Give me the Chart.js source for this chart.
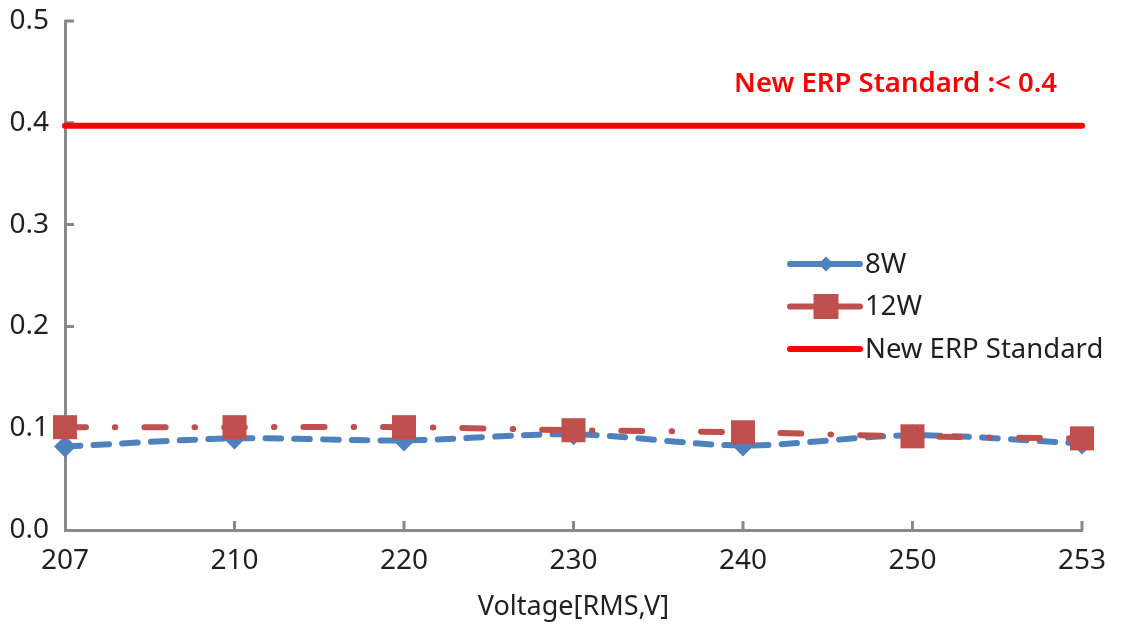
<!DOCTYPE html>
<html>
<head>
<meta charset="utf-8">
<script src="https://cdn.jsdelivr.net/npm/chart.js@4"></script>
<style>
  html, body { margin: 0; padding: 0; background: #fff; }
</style>
</head>
<body>
<canvas id="erp_chart" width="1137" height="628"></canvas>
<script>
// values
const voltages = ['207', '210', '220', '230', '240', '250', '253'];
const pf8w = [0.082, 0.090, 0.088, 0.094, 0.083, 0.093, 0.085];
const pf12w = [0.101, 0.101, 0.101, 0.098, 0.096, 0.092, 0.090];
const erpLimit = [0.397, 0.397, 0.397, 0.397, 0.397, 0.397, 0.397];
const yTicks = [0.0, 0.1, 0.2, 0.3, 0.4, 0.5];
const seriesNames = ['8W', '12W', 'New ERP Standard'];
const noteText = 'New ERP Standard :< 0.4';

const FONT = '"Noto Sans", "Open Sans", sans-serif';
const TEXT = '#231F20';
const AXIS = '#898989';
const BLUE = '#4F81BD';
const RED = '#C0504D';
const ERP = '#FF0000';

// small tick marks pointing into the plot, like the original
const insideTicks = {
    id: 'insideTicks',
    beforeDatasetsDraw(chart) {
        const {ctx, chartArea, scales} = chart;
        ctx.save();
        ctx.strokeStyle = AXIS;
        ctx.lineWidth = 3;
        ctx.beginPath();
        yTicks.forEach(v => {
            if (v === 0) return;
            const py = scales.y.getPixelForValue(v);
            ctx.moveTo(chartArea.left, py);
            ctx.lineTo(chartArea.left + 9, py);
        });
        voltages.forEach((v, i) => {
            if (i === 0) return;
            const px = scales.x.getPixelForValue(i);
            ctx.moveTo(px, chartArea.bottom);
            ctx.lineTo(px, chartArea.bottom - 9);
        });
        ctx.stroke();
        ctx.restore();
    }
};

// red note above the limit line
const erpNote = {
    id: 'erpNote',
    afterDraw(chart) {
        const {ctx, chartArea, scales} = chart;
        ctx.save();
        ctx.font = '600 27.5px ' + FONT;
        ctx.fillStyle = ERP;
        ctx.textAlign = 'right';
        ctx.textBaseline = 'middle';
        ctx.fillText(noteText, chartArea.right - 25, scales.y.getPixelForValue(erpLimit[0]) - 42);
        ctx.restore();
    }
};

function drawMarker(ctx, style, x, y, r, color) {
    ctx.fillStyle = color;
    ctx.beginPath();
    if (style === 'rectRot') {
        ctx.moveTo(x, y - r);
        ctx.lineTo(x + r, y);
        ctx.lineTo(x, y + r);
        ctx.lineTo(x - r, y);
        ctx.closePath();
    } else if (style === 'rect') {
        ctx.rect(x - r, y - r, 2 * r, 2 * r);
    }
    ctx.fill();
}

// legend sitting inside the plot on the right
const sideLegend = {
    id: 'sideLegend',
    afterDraw(chart) {
        const {ctx, chartArea} = chart;
        const x0 = chartArea.right - 292;
        const y0 = chartArea.top + 243;
        const markers = [['rectRot', 7.5], ['rect', 12.5], [null, 0]];
        ctx.save();
        chart.data.datasets.forEach((ds, i) => {
            const y = y0 + i * 42.5;
            ctx.strokeStyle = ds.borderColor;
            ctx.lineWidth = 6;
            ctx.lineCap = 'round';
            ctx.beginPath();
            ctx.moveTo(x0, y);
            ctx.lineTo(x0 + 70, y);
            ctx.stroke();
            if (markers[i][0]) drawMarker(ctx, markers[i][0], x0 + 36, y, markers[i][1], ds.pointBackgroundColor);
            ctx.fillStyle = TEXT;
            ctx.font = '27.5px ' + FONT;
            ctx.textAlign = 'left';
            ctx.textBaseline = 'middle';
            ctx.fillText(ds.label, x0 + 75, y + 1);
        });
        ctx.restore();
    }
};

const chart_data = {
    labels: voltages,
    datasets: [{
        label: seriesNames[0],
        data: pf8w,
        borderColor: BLUE,
        borderWidth: 6,
        borderDash: [15.5, 13.2],
        borderCapStyle: 'round',
        tension: 0.3,
        pointStyle: 'rectRot',
        pointRadius: 11,
        pointBackgroundColor: BLUE,
        pointBorderColor: BLUE,
        pointBorderWidth: 0,
        clip: false,
        order: 1
    }, {
        label: seriesNames[1],
        data: pf12w,
        borderColor: RED,
        borderWidth: 6,
        borderDash: [21, 29, 0.5, 29],
        borderCapStyle: 'round',
        tension: 0.3,
        pointStyle: 'rect',
        pointRadius: 17,
        pointBackgroundColor: RED,
        pointBorderColor: RED,
        pointBorderWidth: 0,
        clip: false,
        order: 0
    }, {
        label: seriesNames[2],
        data: erpLimit,
        borderColor: ERP,
        borderWidth: 6,
        borderCapStyle: 'round',
        pointRadius: 0,
        clip: false,
        order: 2
    }]
};

const config = {
    type: 'line',
    data: chart_data,
    options: {
        responsive: false,
        animation: false,
        layout: {
            padding: {top: 21, right: 55, left: 0, bottom: 0}
        },
        plugins: {
            legend: {display: false},
            tooltip: {enabled: false}
        },
        scales: {
            x: {
                type: 'category',
                offset: false,
                grid: {display: false},
                border: {display: true, color: AXIS, width: 3},
                ticks: {
                    color: TEXT,
                    font: {family: FONT, size: 28},
                    padding: 6,
                    maxRotation: 0,
                    autoSkip: false
                },
                title: {
                    display: true,
                    text: 'Voltage[RMS,V]',
                    color: TEXT,
                    font: {family: FONT, size: 27},
                    padding: {top: 2, bottom: 4}
                },
                afterFit: scale => {
                    scale.height = 98;
                    scale.paddingLeft = 0;
                    scale.paddingRight = 0;
                }
            },
            y: {
                min: 0,
                max: 0.5,
                grid: {display: false},
                border: {display: true, color: AXIS, width: 3},
                afterBuildTicks: scale => {
                    scale.ticks = yTicks.map(v => ({value: v}));
                },
                ticks: {
                    color: TEXT,
                    font: {family: FONT, size: 28},
                    padding: 8,
                    callback: v => Number(v).toFixed(1)
                },
                afterFit: scale => {
                    scale.width = 65;
                    scale.paddingTop = 0;
                    scale.paddingBottom = 0;
                }
            }
        }
    },
    plugins: [insideTicks, erpNote, sideLegend]
};

const chart = new Chart(document.getElementById('erp_chart'), config);
</script>
</body>
</html>
